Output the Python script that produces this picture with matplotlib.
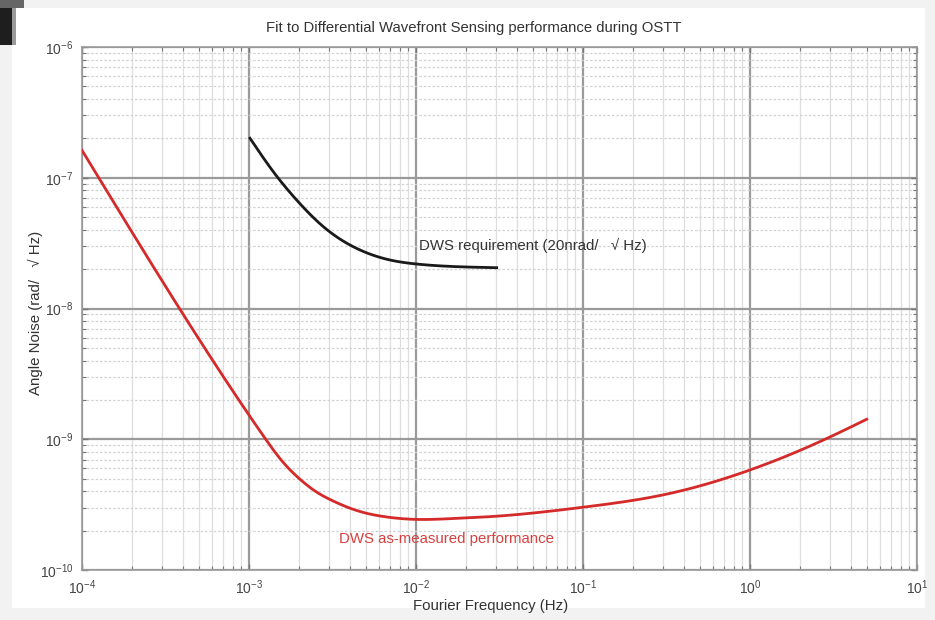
import numpy as np
import matplotlib
matplotlib.use("Agg")
import matplotlib.pyplot as plt
from matplotlib.ticker import LogLocator, FixedLocator, NullFormatter
from matplotlib.patches import Rectangle

plt.rcParams['font.family'] = ['Liberation Sans', 'DejaVu Sans']
plt.rcParams['mathtext.fontset'] = 'custom'
plt.rcParams['mathtext.rm'] = 'Liberation Sans'
plt.rcParams['mathtext.it'] = 'Liberation Sans:italic'
plt.rcParams['mathtext.bf'] = 'Liberation Sans:bold'

# ---- data (log10 frequency, log10 noise) ----
meas_logf = [-4.0, -3.5, -3.0, -2.9, -2.8, -2.7, -2.6, -2.5, -2.4, -2.3, -2.2,
             -2.0, -1.757, -1.557, -1.0, -0.5, 0.0, 0.3, 0.5, 0.699]
meas_logy = [-6.79, -7.83, -8.815, -9.0, -9.17, -9.30, -9.40, -9.47, -9.525,
             -9.565, -9.59, -9.613, -9.605, -9.592, -9.52, -9.42, -9.235,
             -9.085, -8.97, -8.847]

req_logf = [-2.994, -2.855, -2.715, -2.555, -2.356, -2.156, -1.996, -1.757, -1.517]
req_logy = [-6.698, -6.953, -7.17, -7.374, -7.54, -7.629, -7.66, -7.68, -7.688]

xticks = [1e-4, 1e-3, 1e-2, 1e-1, 1e0, 1e1]
xticklabels = [r'$10^{-4}$', r'$10^{-3}$', r'$10^{-2}$', r'$10^{-1}$', r'$10^{0}$', r'$10^{1}$']
yticks = [1e-10, 1e-9, 1e-8, 1e-7, 1e-6]
yticklabels = [r'$10^{-10}$', r'$10^{-9}$', r'$10^{-8}$', r'$10^{-7}$', r'$10^{-6}$']


def spline(lx, ly, n=600):
    """Natural cubic spline through the read points (in log-log space)."""
    x = np.asarray(lx, float); y = np.asarray(ly, float)
    N = len(x)
    h = np.diff(x)
    A = np.zeros((N, N)); b = np.zeros(N)
    A[0, 0] = 1; A[-1, -1] = 1
    for i in range(1, N - 1):
        A[i, i - 1] = h[i - 1]
        A[i, i] = 2 * (h[i - 1] + h[i])
        A[i, i + 1] = h[i]
        b[i] = 3 * ((y[i + 1] - y[i]) / h[i] - (y[i] - y[i - 1]) / h[i - 1])
    c = np.linalg.solve(A, b)
    xs = np.linspace(x[0], x[-1], n)
    k = np.clip(np.searchsorted(x, xs, side='right') - 1, 0, N - 2)
    dx = xs - x[k]
    bb = (y[k + 1] - y[k]) / h[k] - h[k] * (2 * c[k] + c[k + 1]) / 3
    dd = (c[k + 1] - c[k]) / (3 * h[k])
    ys = y[k] + bb * dx + c[k] * dx**2 + dd * dx**3
    return 10**xs, 10**ys


W, H = 935, 620
fig = plt.figure(figsize=(W/100, H/100), dpi=100)
fig.patch.set_facecolor('#f2f2f2')
fig.patches.append(Rectangle((12/W, 1 - 608/H), (925-12)/W, (608-8)/H,
                             transform=fig.transFigure, facecolor='white',
                             edgecolor='none', zorder=-10))
fig.patches.append(Rectangle((0, 1 - 45/H), 12/W, 45/H, transform=fig.transFigure,
                             facecolor='#1e1e1e', edgecolor='none', zorder=-9))
fig.patches.append(Rectangle((12/W, 1 - 45/H), 4/W, 37/H, transform=fig.transFigure,
                             facecolor='#9a9a9a', edgecolor='none', zorder=-9))
fig.patches.append(Rectangle((0, 1 - 8/H), 24/W, 8/H, transform=fig.transFigure,
                             facecolor='#666666', edgecolor='none', zorder=-9))

ax = fig.add_axes([82/W, 1 - 570/H, (917-82)/W, (570-47)/H])
ax.set_xscale('log'); ax.set_yscale('log')
ax.set_xlim(1e-4, 1e1); ax.set_ylim(1e-10, 1e-6)

mx, my = spline(meas_logf, meas_logy)
rx, ry = spline(req_logf, req_logy)
ax.plot(mx, my, color='#d42a2a', lw=2.0, zorder=5)
ax.plot(rx, ry, color='#1a1a1a', lw=2.0, zorder=5)

ax.xaxis.set_major_locator(FixedLocator(xticks))
ax.yaxis.set_major_locator(FixedLocator(yticks))
ax.set_xticklabels(xticklabels)
ax.set_yticklabels(yticklabels)
ax.xaxis.set_minor_locator(LogLocator(base=10, subs=np.arange(2, 10), numticks=20))
ax.yaxis.set_minor_locator(LogLocator(base=10, subs=np.arange(2, 10), numticks=20))
ax.xaxis.set_minor_formatter(NullFormatter())
ax.yaxis.set_minor_formatter(NullFormatter())

ax.tick_params(which='both', direction='in', top=True, right=True, color='#777777')
ax.tick_params(which='major', length=4, width=1, labelsize=10, labelcolor='#444444', pad=6)
ax.tick_params(which='minor', length=3, width=0.8)

ax.grid(which='major', color='#9a9a9a', lw=1.6, zorder=0)
ax.xaxis.grid(which='minor', color='#dedede', lw=0.9, ls='-', zorder=0)
ax.yaxis.grid(which='minor', color='#d2d2d2', lw=0.9, ls=(0, (2, 1.5)), zorder=0)
ax.set_axisbelow(True)
for s in ax.spines.values():
    s.set_color('#999999'); s.set_linewidth(1.2)

fig.text(474/W, 1 - 28/H, 'Fit to Differential Wavefront Sensing performance during OSTT',
         ha='center', va='center', fontsize=10.7, color='#333333')
fig.text(491/W, 1 - 606/H, 'Fourier Frequency (Hz)', ha='center', va='center',
         fontsize=10.8, color='#333333')
fig.text(35/W, 1 - 313/H, 'Angle Noise (rad/   \u221a Hz)', ha='center', va='center',
         rotation=90, fontsize=10.8, color='#333333')

ax.text(10**(-4 + (419-82)/167), 10**(-6 - (245-47)/130.75),
        'DWS requirement (20nrad/   \u221a Hz)', ha='left', va='center',
        fontsize=10.8, color='#333333', zorder=6)
ax.text(10**(-4 + (339-82)/167), 10**(-6 - (539-47)/130.75),
        'DWS as-measured performance', ha='left', va='center',
        fontsize=10.8, color='#d84040', zorder=6)

fig.savefig('out.png', dpi=100, facecolor=fig.get_facecolor())
